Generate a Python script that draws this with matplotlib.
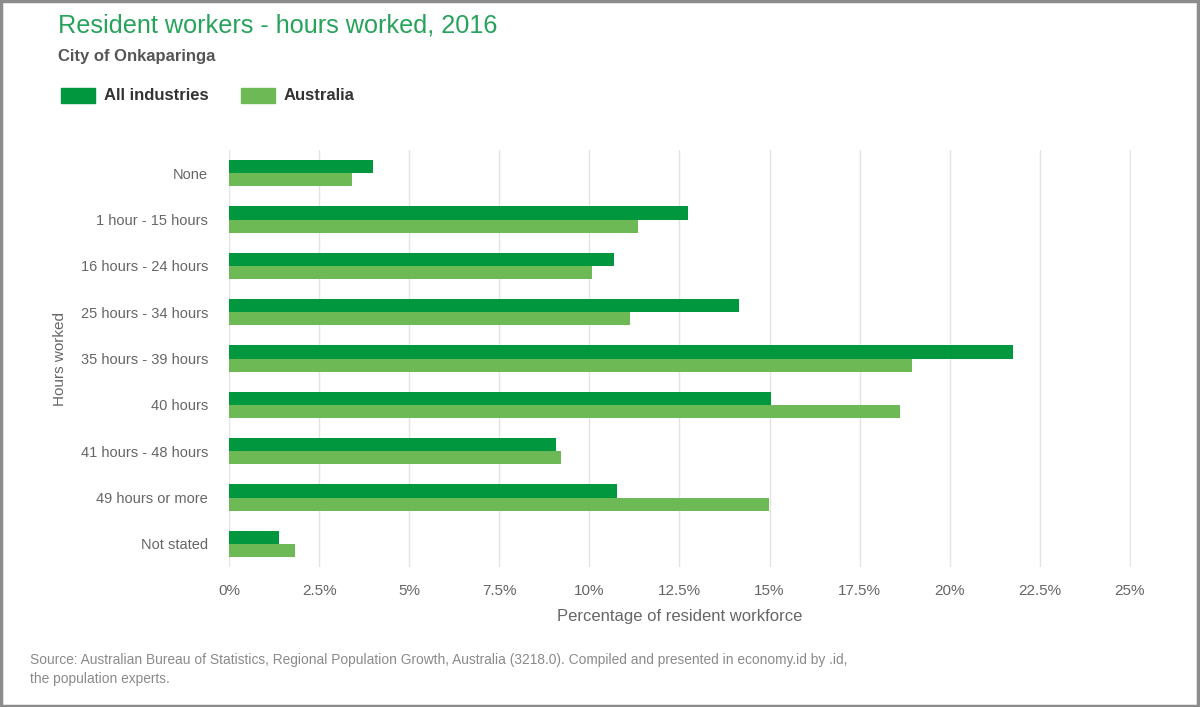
import matplotlib
matplotlib.use("Agg")
import matplotlib.pyplot as plt
from matplotlib.patches import Rectangle
from matplotlib.ticker import FuncFormatter, MultipleLocator

plt.rcParams['font.family'] = ['Liberation Sans', 'DejaVu Sans']

categories = ["None", "1 hour - 15 hours", "16 hours - 24 hours", "25 hours - 34 hours",
              "35 hours - 39 hours", "40 hours", "41 hours - 48 hours", "49 hours or more",
              "Not stated"]
all_industries = [4.0, 12.73, 10.69, 14.14, 21.75, 15.04, 9.08, 10.78, 1.40]
australia = [3.40, 11.35, 10.07, 11.13, 18.95, 18.61, 9.20, 14.99, 1.83]
series_names = ["All industries", "Australia"]

dark = "#00973f"
light = "#6db956"
grey_text = "#666666"

W, H = 1200, 707
fig = plt.figure(figsize=(W / 100, H / 100), dpi=100)
fig.patch.set_facecolor("white")

# axes: left 229, right 1130, top 150, bottom 567 (pixels)
ax = fig.add_axes([229 / W, 1 - 567 / H, (1131 - 229) / W, (567 - 150) / H])
ypos = list(range(len(categories)))
h = 0.285
ax.barh([y - h / 2 for y in ypos], all_industries, height=h, color=dark, zorder=3)
ax.barh([y + h / 2 for y in ypos], australia, height=h, color=light, zorder=3)

ax.set_xlim(0, 25.03)
ax.set_ylim(len(categories) - 0.5, -0.5)
ax.xaxis.set_major_locator(MultipleLocator(2.5))
ax.xaxis.set_major_formatter(FuncFormatter(lambda v, p: f"{v:g}%"))
ax.grid(axis="x", color="#e3e3e3", linewidth=1, zorder=0)
ax.set_yticks(ypos)
ax.set_yticklabels(categories)
for s in ax.spines.values():
    s.set_visible(False)
ax.tick_params(axis="both", length=0, colors=grey_text)
ax.tick_params(axis="y", pad=15, labelsize=10.5)
ax.tick_params(axis="x", pad=12, labelsize=11)
ax.set_xlabel("Percentage of resident workforce", color=grey_text, fontsize=12, labelpad=8)
ax.set_ylabel("Hours worked", color=grey_text, fontsize=11, labelpad=10)

# title and subtitle
fig.text(58 / W, 1 - 25 / H, "Resident workers - hours worked, 2016", color="#26a35a",
         fontsize=18.2, ha="left", va="center")
fig.text(58 / W, 1 - 57 / H, "City of Onkaparinga", color="#555555", fontsize=12,
         fontweight="bold", ha="left", va="center")

# legend
for x0, col, name in [(61, dark, series_names[0]), (241, light, series_names[1])]:
    fig.patches.append(Rectangle((x0 / W, 1 - 103 / H), 34 / W, 15 / H,
                                 transform=fig.transFigure, color=col))
    fig.text((x0 + 43) / W, 1 - 96 / H, name, color="#333333", fontsize=12,
             fontweight="bold", ha="left", va="center")

# source
fig.text(30 / W, 1 - 660 / H,
         "Source: Australian Bureau of Statistics, Regional Population Growth, Australia (3218.0). "
         "Compiled and presented in economy.id by .id,",
         color="#8a8a8a", fontsize=9.9, ha="left", va="center")
fig.text(30 / W, 1 - 679 / H, "the population experts.", color="#8a8a8a", fontsize=9.9,
         ha="left", va="center")

# frame
fig.patches.append(Rectangle((0.001, 0.002), 0.997, 0.996, transform=fig.transFigure,
                             fill=False, edgecolor="#8c8c8c", linewidth=2.5))

fig.savefig("out.png", dpi=100, facecolor="white")
